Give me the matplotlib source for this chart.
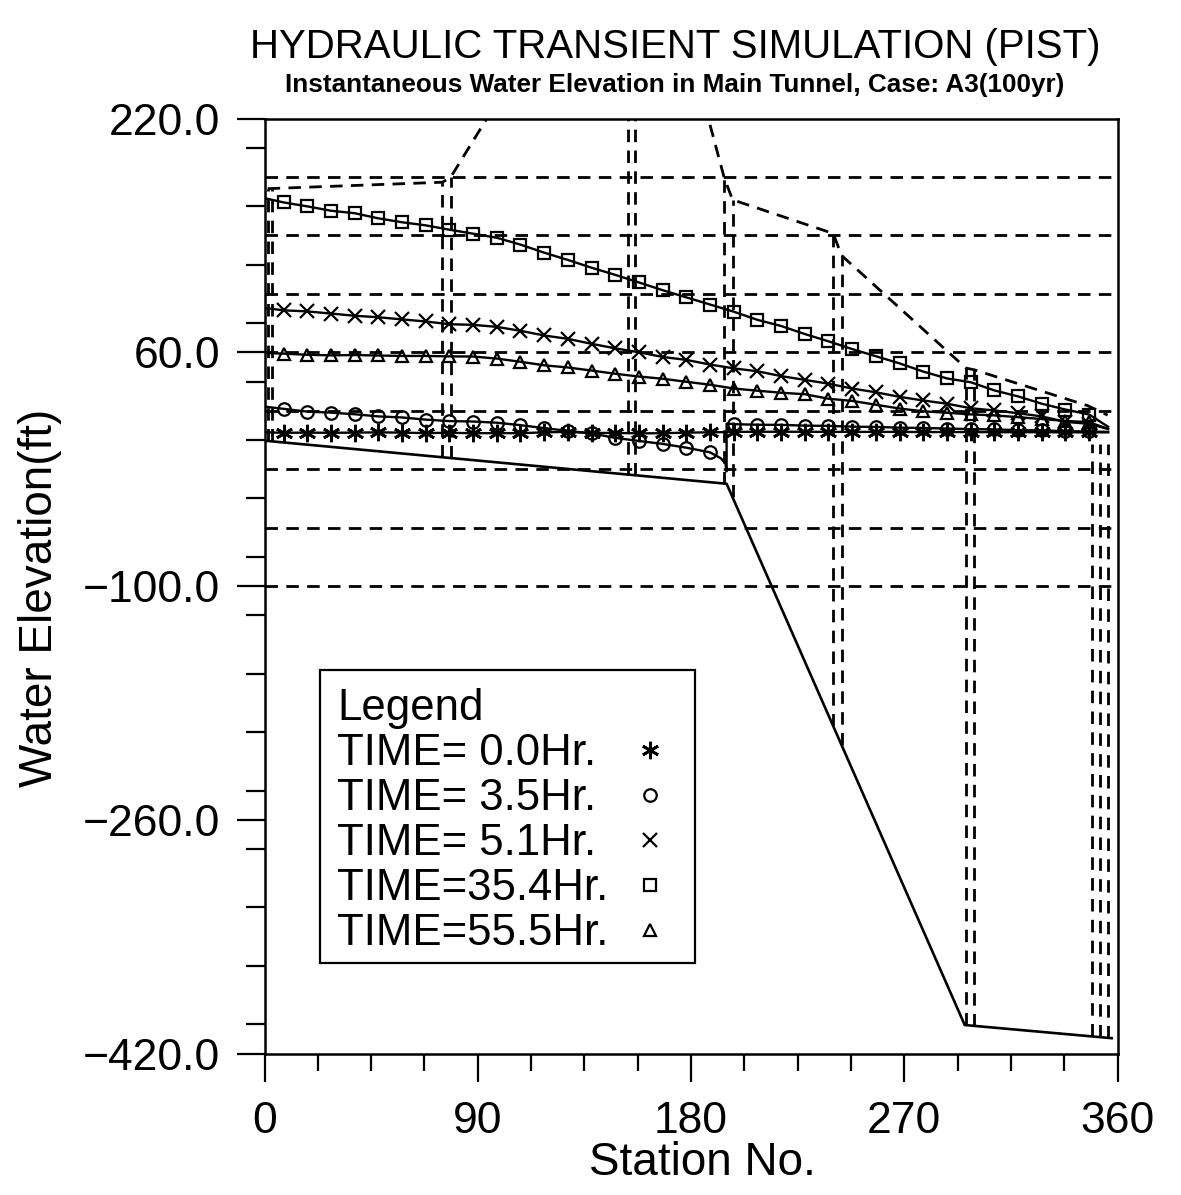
import numpy as np
import matplotlib
matplotlib.use("Agg")
import matplotlib.pyplot as plt
from matplotlib.ticker import FixedLocator, MultipleLocator, FuncFormatter
from matplotlib.patches import Rectangle

plt.rcParams["font.family"] = ["Liberation Sans", "DejaVu Sans"]

# ==============================================================================
#                           PROFILE DATA
# ==============================================================================
# stations that carry a symbol
sta_mark = np.arange(8, 349, 10)
sta_first = 0.0
sta_last = 356.0

# water surface at the symbol stations (ft)
elev_t00 = [4.9, 5.0, 4.9, 5.0, 5.2, 5.0, 4.7, 4.9, 4.6, 4.7, 4.6, 5.2, 5.5, 4.8,
            4.8, 4.5, 4.6, 5.0, 5.2, 5.5, 5.6, 5.6, 5.6, 5.5, 5.5, 5.5, 5.5, 5.4,
            5.4, 5.4, 5.3, 5.3, 5.3, 5.2, 5.2]
elev_t35 = [21.3, 19.4, 18.7, 17.6, 16.1, 15.4, 13.9, 12.9, 12.6, 11.8, 10.1, 8.1,
            6.2, 4.5, 1.4, -0.7, -2.7, -5.3, -8.5, 10.8, 10.4, 10.3, 9.8, 9.6, 9.1,
            8.9, 8.4, 8.2, 7.8, 7.4, 7.2, 6.7, 6.5, 6.0, 5.8]
elev_t51 = [88.7, 88.0, 86.5, 85.0, 84.0, 82.5, 81.1, 79.2, 78.8, 77.4, 74.7, 71.5,
            69.2, 65.8, 62.7, 60.0, 56.8, 54.8, 51.6, 49.0, 47.0, 43.7, 41.1, 38.5,
            35.2, 32.6, 29.5, 27.0, 24.8, 21.7, 20.2, 18.3, 16.1, 12.4, 11.0]
elev_t354 = [162.6, 159.9, 156.9, 155.2, 151.7, 149.0, 146.9, 143.9, 141.2, 138.4,
             133.7, 128.2, 123.2, 117.9, 113.0, 107.8, 102.5, 97.6, 92.7, 87.8, 82.2,
             78.0, 72.5, 67.5, 62.2, 57.3, 52.4, 46.8, 42.1, 39.5, 33.9, 29.8, 24.8,
             20.8, 17.4]
elev_t555 = [59.1, 58.3, 57.9, 58.1, 57.8, 57.5, 57.5, 57.2, 57.1, 55.7, 53.5, 51.1,
             49.6, 47.5, 45.3, 43.4, 41.9, 39.8, 37.8, 35.2, 33.7, 32.3, 31.3, 28.2,
             26.7, 24.1, 21.5, 19.6, 18.6, 17.5, 16.8, 15.6, 14.3, 13.0, 12.2]

# line ends at the upstream / downstream boundaries
start_elev = {"t00": 5.2, "t35": 22.8, "t51": 90.4, "t354": 165.5, "t555": 59.5}
end_elev = {"t00": 5.2, "t35": 5.5, "t51": 7.5, "t354": 9.0, "t555": 7.5}

# 3.5 hr profile drops into the shaft at sta 195 before the jump
drop_sta = [192.5, 194.5, 195.0, 195.0]
drop_elev = [-12.5, -16.0, -21.5, 11.2]

# tunnel invert
inv_sta = [0.0, 195.0, 295.5, 357.5]
inv_elev = [-0.5, -30.0, -400.5, -409.5]

# ground / structure outline
ground_sta = [1.3, 75.0, 78.5, 98.0, 183.0, 194.0, 197.5, 240.0, 243.5, 296.0,
              299.5, 347.3, 355.8]
ground_elev = [172.0, 176.4, 179.7, 231.0, 246.0, 179.4, 164.4, 141.3, 126.3, 49.2,
               48.0, 23.5, 17.0]

# drop shaft walls
shaft_sta = [1.3, 3.3, 75.0, 78.5, 153.5, 156.5, 194.0, 197.5, 240.0, 243.5,
             296.0, 299.5, 349.0, 352.4, 355.8]
shaft_top = [172.0, 172.0, 176.4, 179.7, 225.0, 225.0, 179.4, 164.4, 141.3, 126.3,
             49.2, 48.0, -3.0, -3.0, -3.0]

grid_elev = [180, 140, 100, 60, 20, -20, -60, -100]

labels = ["TIME= 0.0Hr.", "TIME= 3.5Hr.", "TIME= 5.1Hr.", "TIME=35.4Hr.", "TIME=55.5Hr."]

# ==============================================================================
#                           PLOTTING
# ==============================================================================
fig = plt.figure(figsize=(11.81, 11.95), dpi=100)
ax = fig.add_axes([0.224, 0.1184, 0.7223, 0.7824])

dash = (0, (4.5, 3.0))
ax.hlines(grid_elev, 0, 360, colors="k", linestyles=[dash], linewidth=2.0)
ax.plot(ground_sta, ground_elev, color="k", ls=dash, lw=2.0)
shaft_bot = np.interp(shaft_sta, inv_sta, inv_elev)
ax.vlines(shaft_sta, shaft_bot, shaft_top, colors="k", linestyles=[dash], linewidth=2.0)
ax.plot(inv_sta, inv_elev, color="k", lw=1.9)

mk = dict(color="k", mfc="none", mew=1.6, ls="none")
series = [
    ("t00", elev_t00, dict(marker=(6, 2, 0), ms=12.5, mew=2.0)),
    ("t35", elev_t35, dict(marker="o", ms=9)),
    ("t51", elev_t51, dict(marker="x", ms=9.5)),
    ("t354", elev_t354, dict(marker="s", ms=8.5)),
    ("t555", elev_t555, dict(marker="^", ms=9)),
]
for key, elev, style in series:
    if key == "t35":
        # upstream limb, drop into the shaft, then downstream limb
        xs = [sta_first] + list(sta_mark[:19]) + drop_sta + list(sta_mark[19:]) + [sta_last]
        ys = [start_elev[key]] + elev[:19] + drop_elev + elev[19:] + [end_elev[key]]
    else:
        xs = [sta_first] + list(sta_mark) + [sta_last]
        ys = [start_elev[key]] + elev + [end_elev[key]]
    ax.plot(xs, ys, color="k", lw=1.7)
    ax.plot(sta_mark, elev, **{**mk, **style})

ax.set_xlim(0, 360)
ax.set_ylim(-420, 220)

ax.xaxis.set_major_locator(FixedLocator([0, 90, 180, 270, 360]))
ax.xaxis.set_minor_locator(MultipleLocator(22.5))
ax.yaxis.set_major_locator(FixedLocator([-420, -260, -100, 60, 220]))
ax.yaxis.set_minor_locator(MultipleLocator(40))
ax.yaxis.set_major_formatter(FuncFormatter(lambda v, p: ("%.1f" % v).replace("-", "\u2212")))
ax.xaxis.set_major_formatter(FuncFormatter(lambda v, p: "%d" % v))

for s in ax.spines.values():
    s.set_linewidth(1.8)
ax.tick_params(axis="x", which="major", length=20, width=1.6, pad=14, labelsize=32)
ax.tick_params(axis="x", which="minor", length=12, width=1.6)
ax.tick_params(axis="y", which="major", length=20, width=1.6, pad=12, labelsize=32)
ax.tick_params(axis="y", which="minor", length=14, width=1.6)

# legend box, drawn in axes fraction
ax.add_patch(Rectangle((0.0645, 0.0973), 0.4396, 0.3134, transform=ax.transAxes,
                       fill=True, facecolor="white", edgecolor="k", lw=1.6, zorder=5))
ax.text(0.085, 0.3567, "Legend", transform=ax.transAxes, fontsize=31.5,
        va="baseline", ha="left", zorder=6)
for i, ((key, elev, style), lab) in enumerate(zip(series, labels)):
    yb = 0.3086 - i * 0.0481
    ax.text(0.085, yb, lab, transform=ax.transAxes, fontsize=31.5,
            va="baseline", ha="left", zorder=6)
    ax.plot([0.452], [yb + 0.016], transform=ax.transAxes, clip_on=False, zorder=6,
            **{**mk, **style})

fig.text(0.572, 0.961, "HYDRAULIC TRANSIENT SIMULATION (PIST)", ha="center", va="center",
         fontsize=29)
fig.text(0.571, 0.929, "Instantaneous Water Elevation in Main Tunnel, Case: A3(100yr)",
         ha="center", va="center", fontsize=18.8, weight="bold")
fig.text(0.034, 0.5, "Water Elevation(ft)", rotation=90, ha="center", va="center",
         fontsize=33)
fig.text(0.595, 0.027, "Station No.", ha="center", va="center", fontsize=33)

fig.savefig("out.png", dpi=100)
